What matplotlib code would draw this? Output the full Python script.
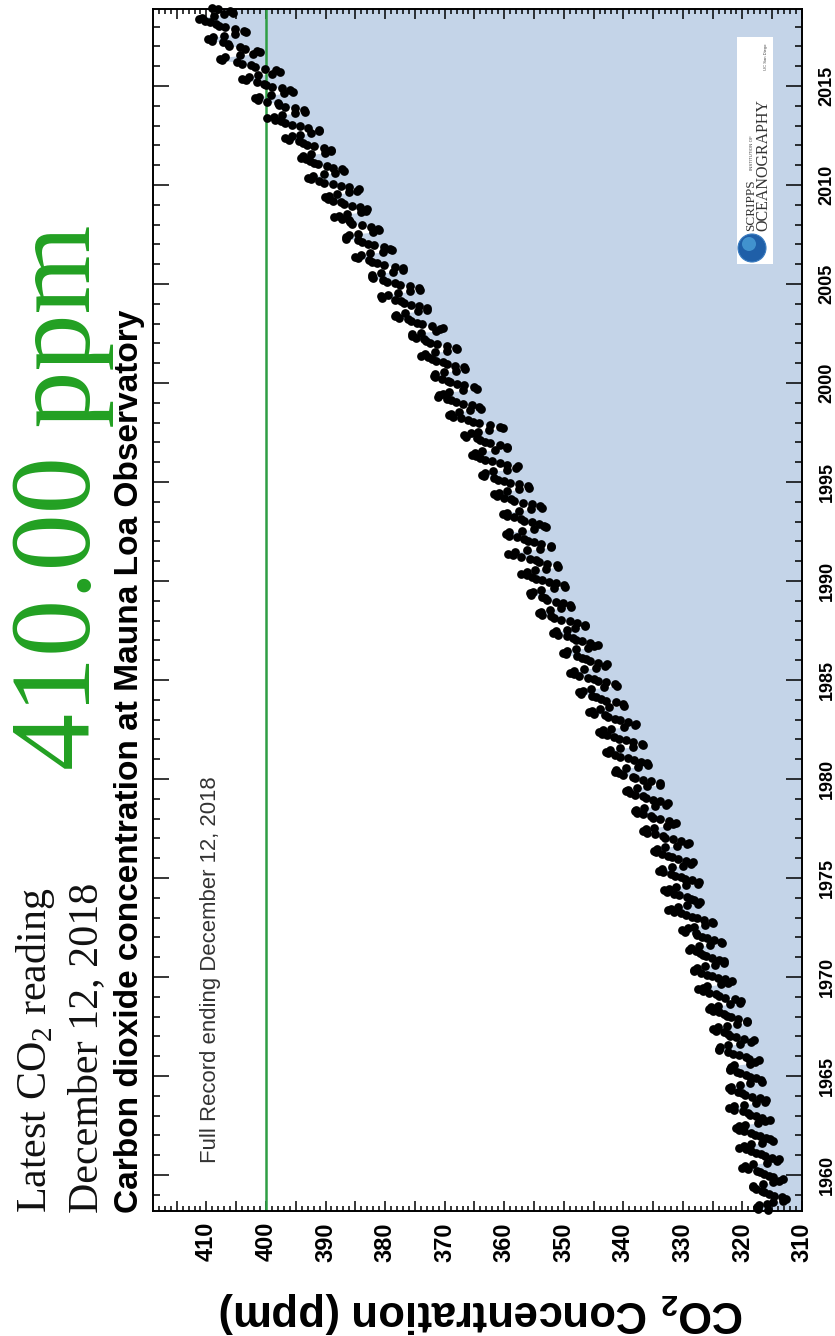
import matplotlib
matplotlib.use("Agg")
import matplotlib.pyplot as plt
from matplotlib.ticker import MultipleLocator, FuncFormatter
from matplotlib.patches import Rectangle, Ellipse
import numpy as np

# ---------------- data (monthly CO2, ppm), record starts March 1958 ----------------
start_year = 1958
start_month = 3
co2_1958_1959 = [315.70, 317.45, 317.51, 317.24, 315.86, 314.93, 313.20, 312.66, 313.33, 314.67,
                 315.62, 316.38, 316.71, 317.72, 318.29, 318.15, 316.54, 314.80, 313.84, 313.26, 314.80, 315.58]
co2_1960s = [316.43, 316.97, 317.58, 319.02, 320.03, 319.59, 318.18, 315.91, 314.16, 313.83, 315.00, 316.19,
             316.93, 317.70, 318.54, 319.48, 320.58, 319.77, 318.57, 316.79, 314.80, 315.38, 316.10, 317.01,
             317.94, 318.55, 319.68, 320.57, 321.02, 320.62, 319.61, 317.40, 316.25, 315.42, 316.69, 317.70,
             318.74, 319.07, 319.86, 321.38, 322.25, 321.48, 319.74, 317.77, 316.21, 315.99, 317.07, 318.35,
             319.57, 320.01, 320.74, 321.84, 322.26, 321.89, 320.44, 318.69, 316.70, 316.87, 317.68, 318.71,
             319.44, 320.44, 320.89, 322.13, 322.16, 321.87, 321.39, 318.81, 317.81, 317.30, 318.87, 319.42,
             320.62, 321.59, 322.39, 323.87, 324.01, 323.75, 322.39, 320.37, 318.64, 318.10, 319.79, 321.08,
             322.07, 322.50, 323.04, 324.42, 325.00, 324.09, 322.55, 320.92, 319.31, 319.31, 320.72, 321.96,
             322.57, 323.15, 323.89, 325.02, 325.57, 325.36, 324.14, 322.11, 320.33, 320.25, 321.32, 322.90,
             324.00, 324.42, 325.64, 326.66, 327.38, 326.70, 325.89, 323.67, 322.38, 321.78, 322.85, 324.12]
co2_1970s = [325.06, 325.98, 326.93, 328.13, 328.07, 327.66, 326.35, 324.69, 323.10, 323.07, 324.01, 325.13,
             326.17, 326.68, 327.18, 327.78, 328.92, 328.57, 327.34, 325.46, 323.36, 323.57, 324.80, 326.01,
             326.77, 327.63, 327.75, 329.72, 330.07, 329.09, 328.05, 326.32, 324.93, 325.06, 326.50, 327.55,
             328.54, 329.56, 330.30, 331.50, 332.48, 332.07, 330.87, 329.31, 327.51, 327.18, 328.16, 328.64,
             329.35, 330.71, 331.48, 332.65, 333.09, 332.25, 331.18, 329.40, 327.43, 327.37, 328.46, 329.57,
             330.40, 331.40, 332.04, 333.31, 333.96, 333.59, 331.91, 330.06, 328.56, 328.34, 329.49, 330.76,
             331.75, 332.56, 333.50, 334.58, 334.87, 334.34, 333.05, 330.94, 329.30, 328.94, 330.31, 331.68,
             332.93, 333.42, 334.70, 336.07, 336.74, 336.27, 334.93, 332.75, 331.58, 331.16, 332.40, 333.85,
             334.97, 335.39, 336.64, 337.76, 338.01, 337.89, 336.54, 334.68, 332.76, 332.54, 333.92, 334.95,
             336.23, 336.76, 337.96, 338.89, 339.47, 339.29, 337.73, 336.09, 333.91, 333.86, 335.29, 336.73]
co2_1980s = [338.01, 338.36, 340.08, 340.77, 341.46, 341.17, 339.56, 337.60, 335.88, 336.01, 337.10, 338.21,
             339.24, 340.48, 341.38, 342.51, 342.91, 342.25, 340.49, 338.43, 336.69, 336.86, 338.36, 339.61,
             340.75, 341.61, 342.70, 343.56, 344.13, 343.35, 342.06, 339.82, 337.97, 337.86, 339.26, 340.49,
             341.38, 342.52, 343.10, 344.94, 345.75, 345.32, 343.99, 342.39, 339.86, 339.99, 341.16, 342.99,
             343.70, 344.51, 345.28, 347.08, 347.43, 346.79, 345.40, 343.28, 341.07, 341.35, 342.98, 344.22,
             344.97, 345.99, 347.42, 348.35, 348.93, 348.25, 346.56, 344.67, 343.09, 342.80, 344.24, 345.56,
             346.29, 346.96, 347.86, 349.55, 350.21, 349.54, 347.94, 345.91, 344.86, 344.17, 345.66, 346.90,
             348.02, 348.47, 349.42, 350.99, 351.84, 351.25, 349.52, 348.10, 346.44, 346.36, 347.81, 348.96,
             350.43, 351.72, 352.22, 353.59, 354.22, 353.79, 352.39, 350.44, 348.72, 348.88, 350.07, 351.34,
             352.76, 353.07, 353.68, 355.42, 355.67, 355.12, 353.90, 351.67, 349.80, 349.99, 351.30, 352.52]
co2_1990s = [353.66, 354.70, 355.39, 356.20, 357.16, 356.22, 354.82, 352.91, 350.96, 351.18, 352.83, 354.21,
             354.72, 355.75, 357.16, 358.60, 359.34, 358.24, 356.17, 354.03, 352.16, 352.21, 353.75, 354.99,
             355.98, 356.72, 357.81, 359.15, 359.66, 359.25, 357.02, 355.00, 353.01, 353.31, 354.16, 355.40,
             356.70, 357.16, 358.38, 359.46, 360.28, 359.60, 357.57, 355.52, 353.70, 353.98, 355.33, 356.80,
             358.36, 358.91, 359.97, 361.26, 361.68, 360.95, 359.55, 357.49, 355.84, 356.00, 357.58, 359.04,
             359.96, 361.00, 361.64, 363.45, 363.79, 363.26, 361.90, 359.46, 358.06, 357.75, 359.56, 360.70,
             362.05, 363.25, 364.03, 364.72, 365.41, 364.97, 363.65, 361.49, 359.46, 359.60, 360.76, 362.33,
             363.18, 364.00, 364.57, 366.35, 366.79, 365.62, 364.47, 362.51, 360.19, 360.77, 362.43, 364.28,
             365.32, 366.15, 367.31, 368.61, 369.29, 368.87, 367.64, 365.77, 363.90, 364.23, 365.46, 366.97,
             368.15, 368.87, 369.59, 371.14, 371.00, 370.35, 369.27, 366.94, 364.63, 365.12, 366.67, 368.01]
co2_2000s = [369.14, 369.46, 370.52, 371.66, 371.82, 371.70, 370.12, 368.12, 366.62, 366.73, 368.29, 369.53,
             370.28, 371.50, 372.12, 372.87, 374.02, 373.30, 371.62, 369.55, 367.96, 368.09, 369.68, 371.24,
             372.44, 373.08, 373.52, 374.85, 375.55, 375.40, 374.02, 371.48, 370.71, 370.25, 372.08, 373.78,
             374.68, 375.62, 376.11, 377.65, 378.35, 378.13, 376.62, 374.50, 372.99, 373.00, 374.35, 375.70,
             376.79, 377.37, 378.41, 380.52, 380.63, 379.57, 377.79, 375.86, 374.06, 374.24, 375.86, 377.48,
             378.37, 379.69, 380.41, 382.10, 382.28, 382.13, 380.66, 378.71, 376.98, 377.00, 378.35, 380.11,
             381.38, 382.19, 382.67, 384.61, 385.03, 384.05, 382.46, 380.41, 378.85, 379.13, 380.15, 381.82,
             382.89, 383.90, 384.58, 386.50, 386.56, 386.10, 384.50, 381.99, 380.96, 381.12, 382.45, 383.95,
             385.52, 385.82, 386.03, 387.21, 388.54, 387.76, 386.36, 384.09, 383.18, 382.99, 384.19, 385.56,
             386.94, 387.48, 388.82, 389.55, 390.14, 389.48, 388.03, 386.11, 384.74, 384.43, 386.02, 387.42]
co2_2010s = [388.71, 390.20, 391.17, 392.46, 393.00, 392.15, 390.20, 388.35, 386.85, 387.24, 388.67, 389.79,
             391.33, 391.86, 392.60, 393.25, 394.19, 393.74, 392.51, 390.13, 389.08, 389.00, 390.28, 391.86,
             393.12, 393.86, 394.40, 396.18, 396.74, 395.71, 394.36, 392.39, 391.11, 391.05, 392.98, 394.34,
             395.55, 396.80, 397.43, 398.41, 399.78, 398.60, 397.32, 395.20, 393.45, 393.70, 395.16, 396.84,
             397.85, 398.01, 399.77, 401.38, 401.78, 401.25, 399.10, 397.03, 395.38, 396.03, 397.28, 398.91,
             399.98, 400.28, 401.54, 403.28, 403.96, 402.80, 401.31, 398.93, 397.63, 398.29, 400.16, 401.85,
             402.52, 404.04, 404.83, 407.42, 407.70, 406.81, 404.39, 402.25, 401.03, 401.57, 403.53, 404.42,
             406.17, 406.46, 407.22, 409.04, 409.69, 408.88, 407.12, 405.13, 403.37, 403.63, 405.12, 406.81,
             407.96, 408.32, 409.41, 410.24, 411.24, 410.79, 408.71, 406.99, 405.51, 406.00, 408.02, 409.07]

ppm_ticks = [410, 400, 390, 380, 370, 360, 350, 340, 330, 320, 310]
year_ticks = [1960, 1965, 1970, 1975, 1980, 1985, 1990, 1995, 2000, 2005, 2010, 2015]
reference_level = 400

latest_line1 = "Latest CO$_\\mathregular{2}$ reading"
latest_line2 = "December 12, 2018"
latest_value = "410.00 ppm"
title_text = "Carbon dioxide concentration at Mauna Loa Observatory"
record_text = "Full Record ending December 12, 2018"
axis_label = "CO$_\\mathregular{2}$ Concentration (ppm)"

co2 = np.array(co2_1958_1959 + co2_1960s + co2_1970s + co2_1980s + co2_1990s + co2_2000s + co2_2010s)
t = start_year + (start_month - 1 + np.arange(len(co2)) + 0.5) / 12.0

# ---------------- figure ----------------
W, H = 835, 1336
fig = plt.figure(figsize=(W / 100, H / 100), dpi=100)
fig.patch.set_facecolor("white")

def fx(px):
    return px / W

def fy(py):
    return 1 - py / H

ax_l, ax_r, ax_t, ax_b = 153, 802, 9, 1211
ax = fig.add_axes([fx(ax_l), fy(ax_b), (ax_r - ax_l) / W, (ax_b - ax_t) / H])
ax.set_facecolor("white")

BLUE = "#c4d4e8"
GREEN = "#2f9e44"
TXTGREEN = "#22a022"

ax.fill_betweenx(t, co2, 310, color=BLUE, lw=0, zorder=1)
ax.axvline(reference_level, color=GREEN, lw=1.8, zorder=2)
ax.plot(co2, t, "o", color="black", ms=6.3, mec="black", mew=0, zorder=3, clip_on=False)

ax.set_xlim(418.97, 310)
ax.set_ylim(1958.18, 2018.89)

for sp in ax.spines.values():
    sp.set_linewidth(1.4)
    sp.set_zorder(4)

ax.xaxis.set_major_locator(MultipleLocator(5))
ax.xaxis.set_minor_locator(MultipleLocator(1))
ax.xaxis.set_major_formatter(FuncFormatter(lambda v, p: f"{int(round(v))}" if int(round(v)) in ppm_ticks else ""))
ax.yaxis.set_major_locator(MultipleLocator(5))
ax.yaxis.set_minor_locator(MultipleLocator(1))
ax.yaxis.set_major_formatter(FuncFormatter(lambda v, p: f"{int(round(v))}" if int(round(v)) in year_ticks else ""))

ax.tick_params(axis="x", which="both", direction="in", top=True, bottom=True, width=1.1, color="black")
ax.tick_params(axis="x", which="major", length=7, labelsize=17, pad=8, labelrotation=90)
ax.tick_params(axis="x", which="minor", length=3.6)
ax.tick_params(axis="y", which="both", direction="in", left=True, right=True, labelleft=False,
               labelright=True, width=1.1, color="black")
ax.tick_params(axis="y", which="major", length=11.5, labelsize=13, pad=12, labelrotation=90)
ax.tick_params(axis="y", which="minor", length=5)
for lbl in ax.get_xticklabels():
    lbl.set_fontfamily("Liberation Sans")
    lbl.set_fontweight("bold")
for lbl in ax.get_yticklabels():
    lbl.set_fontfamily("Liberation Sans")
    lbl.set_fontweight("bold")
    lbl.set_verticalalignment("center")

renderer = fig.canvas.get_renderer()

def fit_text(x, y, s, target, rot=90, **kw):
    if rot == 90:
        txt = fig.text(fx(x), fy(y), s, rotation=90, rotation_mode="anchor",
                       ha="left", va="baseline", **kw)
    else:
        txt = fig.text(fx(x), fy(y), s, rotation=rot, ha="center", va="center", **kw)
    bb = txt.get_window_extent(renderer)
    size = bb.height if rot == 90 else bb.width
    txt.set_fontsize(txt.get_fontsize() * target / size)
    return txt

serif = ["Liberation Serif", "DejaVu Serif"]
sans = ["Liberation Sans", "DejaVu Sans"]

fit_text(46, 1213, latest_line1, 325, family=serif, fontsize=30, color="#111111")
fit_text(97, 1213, latest_line2, 330, family=serif, fontsize=30, color="#111111")
fit_text(90, 770, latest_value, 545, family=serif, fontsize=76, color=TXTGREEN)
fit_text(138, 1213, title_text, 904, family=sans, fontsize=20, fontweight="bold", color="black")
fit_text(216, 1163, record_text, 389, family=sans, fontsize=14, color="#333333")
fit_text(482, 1313, axis_label, 525, rot=180, family=sans, fontsize=26, fontweight="bold", color="black")

# ---------------- Scripps logo ----------------
fig.add_artist(Rectangle((fx(737), fy(264)), 36 / W, 227 / H, transform=fig.transFigure,
                         fc="white", ec="none", zorder=5))
fig.add_artist(Ellipse((fx(752), fy(248)), 28 / W, 28 / H, transform=fig.transFigure,
                       fc="#1f5fa8", ec="#3a7cc0", lw=0.8, zorder=6))
fig.add_artist(Ellipse((fx(749), fy(244)), 14 / W, 14 / H, transform=fig.transFigure,
                       fc="#4aa0d8", ec="none", zorder=6, alpha=0.8))
fig.text(fx(754), fy(231), "SCRIPPS", rotation=90, rotation_mode="anchor", ha="left",
         va="baseline", family=serif, fontsize=9.5, color="#333333", zorder=7)
fig.text(fx(753), fy(170), "INSTITUTION OF", rotation=90, rotation_mode="anchor", ha="left",
         va="baseline", family=sans, fontsize=3.2, color="#444444", zorder=7)
fig.text(fx(767), fy(231), "OCEANOGRAPHY", rotation=90, rotation_mode="anchor", ha="left",
         va="baseline", family=serif, fontsize=11.5, color="#333333", zorder=7)
fig.text(fx(767), fy(70), "UC San Diego", rotation=90, rotation_mode="anchor", ha="left",
         va="baseline", family=sans, fontsize=3, color="#444444", zorder=7)

fig.savefig("out.png", dpi=100, facecolor="white")
